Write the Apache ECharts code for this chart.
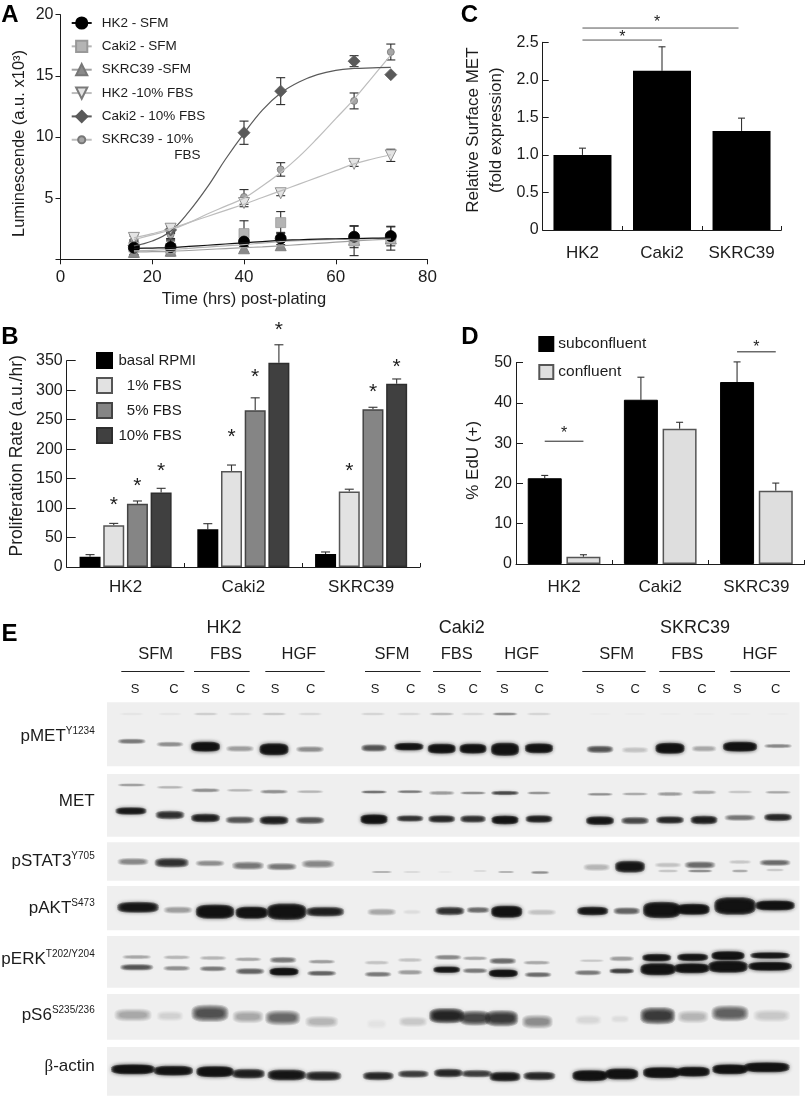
<!DOCTYPE html>
<html><head><meta charset="utf-8">
<style>html,body{margin:0;padding:0;background:#fff}#c{width:805px;height:1096px}</style>
<script src="https://cdn.jsdelivr.net/npm/echarts@6/dist/echarts.min.js"></script>
</head><body><div id="c"></div>
<script>
// ---------- Panel A data ----------
const timesA = [16, 24, 40, 48, 64, 72];
const hk2Sfm = [0.95, 1.0, 1.45, 1.7, 1.85, 1.9];
const hk2SfmErr = [0.6, 0.6, 0.4, 0.5, 0.9, 0.8];
const caki2Sfm = [1.0, 0.9, 2.1, 3.0, 1.5, 1.7];
const caki2SfmErr = [0.6, 0.6, 1.05, 0.9, 1.2, 0.95];
const skrc39Sfm = [0.6, 0.7, 0.9, 1.15, 1.6, 1.7];
const skrc39SfmErr = [0.4, 0.4, 0.3, 0.3, 0.3, 0.3];
const hk2Fbs = [1.75, 2.5, 4.6, 5.4, 7.8, 8.5];
const hk2FbsErr = [0.3, 0.3, 0.3, 0.2, 0.2, 0.5];
const caki2Fbs = [1.1, 2.4, 10.35, 13.75, 16.2, 15.1];
const caki2FbsErr = [0.3, 0.3, 0.95, 1.1, 0.45, 0];
const skrc39Fbs = [1.6, 2.0, 5.1, 7.35, 12.95, 16.95];
const skrc39FbsErr = [0.3, 0.3, 0.6, 0.55, 0.65, 0.65];
// fitted curves
const fitX = [16, 20, 24, 28, 32, 36, 40, 44, 48, 52, 56, 60, 64, 68, 72];
const fitHk2Sfm = [0.9, 0.92, 0.95, 1.05, 1.15, 1.25, 1.35, 1.45, 1.55, 1.6, 1.65, 1.68, 1.7, 1.73, 1.75];
const fitCaki2Sfm = [0.7, 0.73, 0.8, 0.9, 1.0, 1.1, 1.2, 1.33, 1.45, 1.52, 1.58, 1.62, 1.65, 1.68, 1.7];
const fitSkrc39Sfm = [0.6, 0.62, 0.65, 0.72, 0.8, 0.88, 0.95, 1.02, 1.1, 1.2, 1.3, 1.4, 1.5, 1.58, 1.65];
const fitHk2Fbs = [1.75, 2.1, 2.5, 3.0, 3.5, 4.0, 4.5, 5.05, 5.6, 6.15, 6.7, 7.25, 7.8, 8.2, 8.55];
const fitCaki2Fbs = [1.1, 1.5, 2.3, 3.9, 5.9, 8.2, 10.3, 12.2, 13.6, 14.5, 15.1, 15.45, 15.6, 15.65, 15.7];
const fitSkrc39Fbs = [1.6, 2.0, 2.4, 3.0, 3.7, 4.35, 5.0, 6.0, 7.1, 8.4, 9.9, 11.5, 13.1, 14.9, 16.7];

// ---------- Panel B data ----------
const cells = ['HK2', 'Caki2', 'SKRC39'];
const bBasal = [17.5, 64, 22];
const bBasalErr = [3.5, 9.5, 3.5];
const b1Fbs = [71, 163, 128];
const b1FbsErr = [3, 10, 4];
const b5Fbs = [107.5, 266, 267.5];
const b5FbsErr = [4.5, 21, 3.5];
const b10Fbs = [126.5, 346.5, 311];
const b10FbsErr = [7, 30.5, 8];

// ---------- Panel C data ----------
const cMet = [1.0, 2.12, 1.32];
const cMetErr = [0.09, 0.32, 0.17];

// ---------- Panel D data ----------
const dSub = [21.3, 40.8, 45.2];
const dSubErr = [0.7, 5.6, 5];
const dConf = [1.8, 33.6, 18.2];
const dConfErr = [0.5, 1.6, 1.9];

// ---------- Panel E: band darkness per lane (0..1), lanes S,C,S,C,S,C x 3 cell lines ----------
const pMetUpper = [.04,.04,.14,.08,.16,.08, .12,.08,.24,.1,.45,.12, .03,.03,.03,.03,.02,.02];
const pMetMain = [.5,.4,1,.35,1,.4, .65,.96,.98,.98,1,.98, .65,.2,1,.3,1,.45];
const metUpper = [.35,.25,.4,.25,.4,.25, .55,.5,.35,.45,.7,.4, .4,.3,.35,.3,.2,.3];
const metLower = [.92,.8,.9,.65,.9,.65, .98,.8,.85,.8,.97,.9, .95,.7,.85,.9,.5,.85];
const stat3Main = [.45,.8,.4,.5,.5,.45, .3,.12,.05,.12,.3,.4, .25,.95,.2,.55,.15,.55];
const stat3Lower = [.2,.45,.3,.15];
const aktMain = [.95,.35,1,1,1,.9, .3,.06,.8,.55,1,.2, .95,.6,1,1,1,1];
const erkUpper = [.3,.25,.25,.3,.5,.35, .2,.2,.45,.3,.55,.3, .15,.35,.95,.95,1,.95];
const erkLower = [.65,.4,.5,.6,1,.6, .5,.35,.95,.5,.98,.55, .5,.75,1,1,1,1];
const s6Main = [.3,.12,.65,.3,.55,.25, .05,.15,.85,.7,.75,.4, .1,.07,.75,.25,.6,.15];
const actinMain = [1,.97,1,.9,.95,.85, .85,.75,.85,.75,.92,.85, 1,1,1,.98,1,1];
const blotNames = ['pMET', 'MET', 'pSTAT3', 'pAKT', 'pERK', 'pS6', 'β-actin'];
const treatments = ['SFM', 'FBS', 'HGF'];
const laneLetters = ['S','C','S','C','S','C'];

// ---------- Panel E layout, page units: x, y, width, height of each band ----------
const geoPMetUpper = [131.7,170,205.7,240,274,310,373,409,441.7,473,505,539,600,635,670,704,740,778];
const geoPMetMain = [[131.7,741.3,27,5],[170,744.3,26,5],[205.5,746.7,28,9],[240,748.7,27,6],[274,749.3,28,11],[310,749.3,27,6],[374,748,25,7],[409,746.7,28,7],[441.7,748.7,27,9],[473,748.7,26,9],[505,749.3,27,12],[539,748.3,27,9],[600,749.3,26,7],[635,750,26,6],[670,748.3,28,10],[704,748.7,24,6],[740,746.7,33,9],[778,746,27,4]];
const geoMetUpper = [[131.7,785,27,3],[170,787.3,26,3],[205.5,790.3,28,4],[240,790.3,26,3],[274,791.7,27,4],[310,791.7,26,3],[374,792,25,3],[410,791.7,25,3],[441.7,793,25,4],[473,793,25,3],[505,793,27,4],[539,793,23,3],[600,794.3,25,3],[635,794,25,3],[670,794,25,4],[704,792.3,24,4],[740,792,24,3],[778,792.3,25,3]];
const geoMetLower = [[131,811,30,7],[170,815,28,8],[205.5,818,28,8],[240,820,28,7],[274,820.3,28,8],[310,820.3,28,7],[374,819.3,26,9],[410,818.5,26,6],[441.7,819,26,7],[473,819,25,7],[505,820,26,8],[539,819,26,7],[600,820.7,27,8],[635,820.7,27,7],[670,820,27,7],[704,820,26,8],[740,817.7,30,6],[778,817.3,27,7]];
const geoStat3Main = [[133,861.7,30,7],[171.7,862.7,33,9],[210,863.3,28,6],[248,865.7,31,8],[281.7,866.7,29,7],[318,864,32,8],[381.7,872,20,2],[412,872,18,2],[445,872,16,2],[480,871,14,2],[506,872,16,2],[540,872.5,18,3],[596.7,867.3,26,7],[630,866.7,29,11],[668,865,26,5],[700,865,30,7],[740,862,22,4],[775,862.7,30,6]];
const geoStat3Lower = [[668,871,20,3],[700,871,24,3],[740,871,16,3],[775,870,18,3]];
const geoAkt = [[138,907.3,40,10],[178,910,28,7],[215,911.7,37,13],[251.7,912.7,31,11],[286.7,911.7,38,15],[325,911.7,37,9],[381.7,912,28,7],[412,912,18,5],[450,911,28,8],[478,910,22,6],[506.7,911.7,30,11],[541.7,912.3,28,6],[592.7,911,30,8],[626.7,911,26,7],[661.7,910,36,15],[693,909.3,32,10],[735,906,40,16],[775,905.5,38,9]];
const geoErkUpper = [[136.7,957,28,4],[176.7,957.3,26,4],[213,958,26,4],[248,959.3,26,4],[283,960,26,6],[321.7,961.7,26,4],[376.7,962.7,24,4],[410,960,24,4],[448,957.3,26,5],[475,958.3,24,4],[502.7,961,26,6],[536.7,962.7,26,4],[591.7,960.7,24,3],[621.7,958.7,24,5],[656.7,957.7,28,7],[692.7,957.3,30,7],[728,955.7,32,8],[770,955.5,38,6]];
const geoErkLower = [[136.7,967.3,32,6],[176.7,968.3,26,5],[213,968.7,26,5],[250,971.3,28,6],[284,971.7,28,7],[321.7,973.3,28,5],[378,974.3,26,5],[410,972.3,24,5],[446.7,969.7,26,6],[475,970.7,24,5],[503.3,973.3,28,7],[538,974.7,26,5],[588,972.7,26,5],[621.7,971,24,5],[658,969.3,34,11],[691.7,968.3,34,9],[728,966.7,38,11],[770,966.3,42,8]];
const geoS6 = [[133,1015,36,12],[170,1016,26,10],[210,1013.3,36,16],[248,1016.7,30,12],[282.7,1017.7,34,14],[321.7,1021.7,32,11],[376.7,1024,20,10],[413,1021.7,28,10],[446.7,1015.7,34,14],[475,1018,30,14],[501.7,1018.3,32,15],[537.3,1021.7,30,13],[588.3,1020,26,10],[620,1019,18,8],[657.7,1015.7,34,16],[693,1016.7,30,12],[730,1013.3,36,15],[771.7,1015.7,36,12]];
const geoActin = [[133,1069.3,42,9],[173.3,1070.7,38,9],[215,1071.7,36,10],[248.3,1073.7,32,9],[286.7,1075,37,10],[323.3,1076,35,9],[378.3,1076,30,8],[413.3,1074,30,7],[448.3,1073,28,8],[476.7,1073.7,30,7],[505,1076.7,30,9],[539.3,1076,31,8],[590,1075.7,34,10],[621.7,1074,32,10],[661.7,1072.7,36,10],[693.3,1071.7,32,9],[730,1069.3,34,9],[766.7,1067.3,44,9]];
const blotPanels = [[107,799.5,702.3,766.3],[107,799.5,774,836.7],[107,799.5,842.3,880.7],[107,799.5,886,930.3],[107,799.5,936,987.7],[107,799.5,994,1039.7],[107,799.5,1047,1095.7]];
const blotLabelY = [736, 801.7, 861, 908, 959, 1015, 1066.7];
const headerLines = [[121.3,184.3],[194,249.7],[265.3,324.7],[365,420.7],[433,481],[496.7,548.3],[582.3,645.7],[659.3,715],[730.3,790]];
const treatmentX = [155.7,226,299,392,456.7,521.7,616.7,687.3,760];
const laneLetterX = [135,174,205.7,240.7,275,310.7,375,410.7,441.7,473.3,504.3,539.3,600,635.3,666.7,702,737.3,775.7];

const FONT = '"Liberation Sans", Arial, sans-serif';
const INK = '#1c1c1c';

function zipBands(geo, vals) { return geo.map((g, i) => [g[0], g[1], g[2], g[3], vals[i]]); }
const allBands = [].concat(
  zipBands(geoPMetUpper.map((x, i) => [x, 714, 24, 3]), pMetUpper),
  zipBands(geoPMetMain, pMetMain),
  zipBands(geoMetUpper, metUpper), zipBands(geoMetLower, metLower),
  zipBands(geoStat3Main, stat3Main), zipBands(geoStat3Lower, stat3Lower),
  zipBands(geoAkt, aktMain),
  zipBands(geoErkUpper, erkUpper), zipBands(geoErkLower, erkLower),
  zipBands(geoS6, s6Main), zipBands(geoActin, actinMain)
);

function axisBase(size) {
  return {
    axisLine: { show: true, onZero: false, lineStyle: { color: INK, width: 1 } },
    axisTick: { show: true, length: 5, lineStyle: { color: INK, width: 1 } },
    axisLabel: { color: INK, fontSize: size, fontFamily: FONT, margin: 7 },
    splitLine: { show: false },
    nameMoveOverlap: false,
    nameTextStyle: { color: INK, fontFamily: FONT, fontSize: 17, lineHeight: 23 }
  };
}
function catAxis(gridIndex, margin) {
  const a = axisBase(17);
  a.type = 'category'; a.gridIndex = gridIndex; a.data = cells;
  a.axisTick = { show: true, inside: true, length: 4, alignWithLabel: false, lineStyle: { color: INK, width: 1 } };
  a.axisLabel.margin = margin; a.axisLabel.interval = 0;
  return a;
}
function valAxis(gridIndex, min, max, interval, fmt, name, gap, padding, nameSize, tickIn) {
  const a = axisBase(16);
  Object.assign(a, { type: 'value', gridIndex, min, max, interval, name, nameLocation: 'middle', nameGap: gap, nameRotate: 90 });
  a.nameTextStyle.padding = padding;
  a.nameTextStyle.fontSize = nameSize;
  if (tickIn) { a.axisTick.inside = true; a.axisTick.length = tickIn; a.axisLabel.margin = 4; }
  if (fmt) a.axisLabel.formatter = fmt;
  return a;
}

// error bars: item = [x, value, err, offsetPx, both]
function errorBars(xAxisIndex, yAxisIndex, items, cap, color, width) {
  return {
    type: 'custom', xAxisIndex, yAxisIndex, clip: false, silent: true, data: items,
    renderItem(p, api) {
      const c = api.coord([api.value(0), api.value(1)]);
      const t = api.coord([api.value(0), api.value(1) + api.value(2)]);
      const b = api.value(4) ? api.coord([api.value(0), api.value(1) - api.value(2)]) : c;
      const x = c[0] + api.value(3);
      const st = { stroke: color, lineWidth: width, fill: 'none' };
      const kids = [{ type: 'line', shape: { x1: x, y1: t[1], x2: x, y2: b[1] }, style: st },
        { type: 'line', shape: { x1: x - cap / 2, y1: t[1], x2: x + cap / 2, y2: t[1] }, style: st }];
      if (api.value(4)) kids.push({ type: 'line', shape: { x1: x - cap / 2, y1: b[1], x2: x + cap / 2, y2: b[1] }, style: st });
      return { type: 'group', children: kids };
    }
  };
}
// stars: item = [cat, value, offsetPx]
function stars(xAxisIndex, yAxisIndex, items, size) {
  return {
    type: 'custom', xAxisIndex, yAxisIndex, clip: false, silent: true, data: items,
    renderItem(p, api) {
      const c = api.coord([api.value(0), api.value(1)]);
      return { type: 'text', x: c[0] + api.value(2), y: c[1] + size * 0.18,
        style: { text: '*', fontFamily: FONT, fontSize: size, fill: INK, align: 'center', verticalAlign: 'middle' } };
    }
  };
}
// bracket: item = [catFrom, offFrom, catTo, offTo, value]
function brackets(xAxisIndex, yAxisIndex, items, color) {
  return {
    type: 'custom', xAxisIndex, yAxisIndex, clip: false, silent: true, data: items,
    renderItem(p, api) {
      const a = api.coord([api.value(0), api.value(4)]);
      const b = api.coord([api.value(2), api.value(4)]);
      return { type: 'line', shape: { x1: a[0] + api.value(1), y1: a[1], x2: b[0] + api.value(3), y2: a[1] },
        style: { stroke: color, lineWidth: 1, fill: 'none' } };
    }
  };
}

const triDown = 'path://M0,0 L10,0 L5,10 Z';
const smallDot = 'path://M-0.5,-0.5 M10.5,10.5 M5,1.5 A3.5,3.5 0 1 1 5,8.5 A3.5,3.5 0 1 1 5,1.5 Z';
const seriesA = [
  { name: 'SKRC39 - 10%', vals: skrc39Fbs, err: skrc39FbsErr, fit: fitSkrc39Fbs, sym: 'circle', legendSym: smallDot, size: 7, fill: '#a6a6a6', border: '#777', line: '#bdbdbd' },
  { name: 'Caki2 - 10% FBS', vals: caki2Fbs, err: caki2FbsErr, fit: fitCaki2Fbs, sym: 'diamond', size: 12, fill: '#5a5a5a', border: '#5a5a5a', line: '#5a5a5a' },
  { name: 'HK2 -10% FBS', vals: hk2Fbs, err: hk2FbsErr, fit: fitHk2Fbs, sym: triDown, size: 11, fill: '#e4e4e4', border: '#7a7a7a', line: '#bdbdbd' },
  { name: 'SKRC39 -SFM', vals: skrc39Sfm, err: skrc39SfmErr, fit: fitSkrc39Sfm, sym: 'triangle', size: 11, fill: '#8a8a8a', border: '#777', line: '#a0a0a0' },
  { name: 'Caki2 - SFM', vals: caki2Sfm, err: caki2SfmErr, fit: fitCaki2Sfm, sym: 'rect', size: 10, fill: '#b4b4b4', border: '#999', line: '#b4b4b4' },
  { name: 'HK2 - SFM', vals: hk2Sfm, err: hk2SfmErr, fit: fitHk2Sfm, sym: 'circle', size: 11, fill: '#000', border: '#000', line: '#111' }
];
const series = [];
seriesA.forEach(s => {
  series.push({
    name: s.name, type: 'line', xAxisIndex: 0, yAxisIndex: 0, smooth: 0.4, symbol: s.legendSym || s.sym, symbolSize: s.size, showSymbol: false,
    data: fitX.map((x, i) => [x, s.fit[i]]), lineStyle: { color: s.line, width: 1.2 },
    itemStyle: { color: s.fill, borderColor: s.border, borderWidth: 0.8 }, silent: true
  });
});
seriesA.forEach(s => {
  series.push(errorBars(0, 0, timesA.map((x, i) => [x, s.vals[i], s.err[i], 0, 1]), 9, '#2a2a2a', 1.1));
  series.push({
    name: s.name + ' points', type: 'scatter', xAxisIndex: 0, yAxisIndex: 0, symbol: s.sym, symbolSize: s.size,
    data: timesA.map((x, i) => [x, s.vals[i]]), itemStyle: { color: s.fill, borderColor: s.border, borderWidth: 0.8, opacity: 1 }, silent: true
  });
});

// Panel B
const stepB = 23.7, bw = 21;
const bSets = [
  ['basal RPMI', bBasal, bBasalErr, '#000', '#000'],
  ['1% FBS', b1Fbs, b1FbsErr, '#e2e2e2', '#555'],
  ['5% FBS', b5Fbs, b5FbsErr, '#858585', '#444'],
  ['10% FBS', b10Fbs, b10FbsErr, '#404040', '#2e2e2e']
];
bSets.forEach((s, k) => {
  series.push({ name: s[0], type: 'bar', xAxisIndex: 1, yAxisIndex: 1, data: s[1], barWidth: bw, barGap: '12.8%', silent: true,
    itemStyle: { color: s[3], borderColor: s[4], borderWidth: 1.5 } });
  series.push(errorBars(1, 1, s[1].map((v, i) => [i, v, s[2][i], (k - 1.5) * stepB, 0]), 9, '#333', 1.1));
});
const starB = [[0,110.8,-stepB*.5],[1,226.7,-stepB*.5],[2,168.5,-stepB*.5],[0,143,stepB*.5],[1,328.4,stepB*.5],[2,303,stepB*.5],[0,168.5,stepB*1.5],[1,408.7,stepB*1.5],[2,345.4,stepB*1.5]];
series.push(stars(1, 1, starB, 21));

// Panel C
series.push({ name: 'Relative Surface MET', type: 'bar', xAxisIndex: 2, yAxisIndex: 2, data: cMet, barWidth: 58, silent: true, itemStyle: { color: '#000' } });
series.push(errorBars(2, 2, cMet.map((v, i) => [i, v, cMetErr[i], 0, 0]), 7, '#333', 1.1));
series.push(brackets(2, 2, [[0, 0, 1, 0, 2.53], [0, 0, 2, -3, 2.69]], '#555'));
series.push(stars(2, 2, [[0, 2.6, 39.8], [1, 2.8, -5]], 16));

// Panel D
const stepD = 38.7;
series.push({ name: 'subconfluent', type: 'bar', xAxisIndex: 3, yAxisIndex: 3, data: dSub, barWidth: 34, barGap: '13.8%', silent: true, itemStyle: { color: '#000', borderColor: '#000', borderWidth: 1 } });
series.push({ name: 'confluent', type: 'bar', xAxisIndex: 3, yAxisIndex: 3, data: dConf, barWidth: 34, barGap: '13.8%', silent: true, itemStyle: { color: '#dedede', borderColor: '#555', borderWidth: 1.5 } });
series.push(errorBars(3, 3, dSub.map((v, i) => [i, v, dSubErr[i], -stepD / 2, 0]), 7, '#333', 1.1));
series.push(errorBars(3, 3, dConf.map((v, i) => [i, v, dConfErr[i], stepD / 2, 0]), 7, '#333', 1.1));
series.push(brackets(3, 3, [[0, -stepD / 2, 0, stepD / 2, 30.5], [2, -stepD / 2, 2, stepD / 2, 52.7]], '#222'));
series.push(stars(3, 3, [[0, 33, 0], [2, 54.5, 0]], 16));

// Panel E blot
series.push({
  type: 'custom', xAxisIndex: 4, yAxisIndex: 4, clip: false, silent: true, data: blotPanels, z: 1,
  renderItem(p, api) {
    const a = api.coord([api.value(0), api.value(2)]);
    const b = api.coord([api.value(1), api.value(3)]);
    return { type: 'rect', shape: { x: a[0], y: a[1], width: b[0] - a[0], height: b[1] - a[1] }, style: { fill: '#efefef' } };
  }
});
function bandOutline(cx, cy, rx, ry) {
  const pts = [], p = 3.2, m = 28;
  for (let i = 0; i < m; i++) {
    const a = i / m * Math.PI * 2, co = Math.cos(a), si = Math.sin(a);
    pts.push([cx + rx * Math.sign(co) * Math.pow(Math.abs(co), 2 / p), cy + ry * Math.sign(si) * Math.pow(Math.abs(si), 2 / p)]);
  }
  return pts;
}
series.push({
  type: 'custom', xAxisIndex: 4, yAxisIndex: 4, clip: false, silent: true, data: allBands, z: 2,
  renderItem(p, api) {
    const c = api.coord([api.value(0), api.value(1)]);
    const s = api.size([api.value(2), api.value(3)]);
    const d = Math.min(api.value(4), 0.985);
    const n = 6;
    const alpha = 1 - Math.pow(1 - d, 1 / n);
    const col = 'rgba(18,18,18,' + alpha.toFixed(3) + ')';
    const kids = [];
    for (let k = 0; k < n; k++) {
      const t = k / (n - 1);
      kids.push({ type: 'polygon',
        shape: { points: bandOutline(c[0], c[1], s[0] * 0.5 * (1.04 - 0.3 * t), s[1] * 0.5 * (1.1 - 0.65 * t)) },
        style: { fill: col, shadowBlur: 4, shadowColor: col } });
    }
    return { type: 'group', children: kids };
  }
});
// header rules drawn through the blot scale
series.push({
  type: 'custom', xAxisIndex: 4, yAxisIndex: 4, clip: false, silent: true, data: headerLines.map(l => [l[0], l[1], 671.5]),
  renderItem(p, api) {
    const a = api.coord([api.value(0), api.value(2)]);
    const b = api.coord([api.value(1), api.value(2)]);
    return { type: 'line', shape: { x1: a[0], y1: a[1], x2: b[0], y2: a[1] }, style: { stroke: '#222', lineWidth: 1 } };
  }
});

function txt(text, x, y, size, extra) {
  return Object.assign({ type: 'text', x, y, silent: true,
    style: Object.assign({ text, fontSize: size, fontFamily: FONT, fill: INK, align: 'center', verticalAlign: 'middle' }, extra || {}) });
}
const graphics = [
  txt('A', 10, 15, 24, { fontWeight: 'bold', fill: '#000' }),
  txt('B', 10, 337, 24, { fontWeight: 'bold', fill: '#000' }),
  txt('C', 469.5, 15, 24, { fontWeight: 'bold', fill: '#000' }),
  txt('D', 470, 337, 24, { fontWeight: 'bold', fill: '#000' }),
  txt('E', 9.5, 634, 24, { fontWeight: 'bold', fill: '#000' }),
  txt('FBS', 187.5, 155.7, 13.5),
  txt('HK2', 224, 628, 18), txt('Caki2', 461.7, 628, 18), txt('SKRC39', 695, 628, 18)
];
treatmentX.forEach((x, i) => graphics.push(txt(treatments[i % 3], x, 654, 16.5)));
laneLetterX.forEach((x, i) => graphics.push(txt(laneLetters[i % 6], x, 689, 13)));
const sup = { b: { fontSize: 17, fontFamily: FONT, fill: INK, lineHeight: 20 }, s: { fontSize: 10, fontFamily: FONT, fill: INK, verticalAlign: 'top', lineHeight: 20, padding: [0, 0, 0, 0] }, g: { fontSize: 17, fontFamily: '"Liberation Serif", serif', fill: INK, lineHeight: 20 } };
const blotSup = ['Y1234', '', 'Y705', 'S473', 'T202/Y204', 'S235/236', ''];
blotNames.forEach((n, i) => {
  let t = blotSup[i] ? '{b|' + n + '}{s|' + blotSup[i] + '}' : '{b|' + n + '}';
  if (n === 'β-actin') t = '{g|β}{b|-actin}';
  graphics.push(txt(t, 94.7, blotLabelY[i], 17, { align: 'right', rich: sup }));
});

const legendCommon = { orient: 'vertical', selectedMode: false, padding: 0 };
const gridBase = { outerBoundsMode: 'none', containLabel: false };
const xA = axisBase(17);
xA.axisLabel.margin = 10;
const option = {
  animation: false,
  backgroundColor: '#fff',
  textStyle: { fontFamily: FONT },
  grid: [
    Object.assign({ left: 60.5, top: 14.7, width: 367, height: 244.6 }, gridBase),
    Object.assign({ left: 66.7, top: 360.7, width: 353.3, height: 206.3 }, gridBase),
    Object.assign({ left: 542.7, top: 42.3, width: 238.6, height: 187.7 }, gridBase),
    Object.assign({ left: 516, top: 362.7, width: 288.5, height: 201.3 }, gridBase),
    Object.assign({ left: 0, top: 0, width: 805, height: 1096 }, gridBase)
  ],
  xAxis: [
    Object.assign(xA, { type: 'value', gridIndex: 0, min: 0, max: 80, interval: 20, name: 'Time (hrs) post-plating', nameLocation: 'middle', nameGap: 32, nameTextStyle: { color: INK, fontFamily: FONT, fontSize: 16.5 } }),
    catAxis(1, 12), catAxis(2, 15), catAxis(3, 15),
    { type: 'value', gridIndex: 4, min: 0, max: 805, show: false }
  ],
  yAxis: [
    valAxis(0, 0, 20, 5, v => v === 0 ? '' : String(v), 'Luminescende (a.u. x10³)', 29.5, [0, 13, 0, 0], 16.5),
    valAxis(1, 0, 350, 50, null, 'Proliferation Rate (a.u./hr)', 37.7, [0, 0, 0, 16], 17.5, 9),
    valAxis(2, 0, 2.5, 0.5, v => v === 0 ? '0' : v.toFixed(1), 'Relative Surface MET\n(fold expression)', 35, [0, 0, 0, 12], 17, 6),
    valAxis(3, 0, 50, 10, null, '% EdU (+)', 30.7, [0, 0, 0, 6], 17, 7),
    { type: 'value', gridIndex: 4, min: 0, max: 1096, inverse: true, show: false }
  ],
  legend: [
    Object.assign({}, legendCommon, { left: 70.7, top: 16, itemWidth: 20, itemHeight: 14, itemGap: 9.35,
      textStyle: { color: INK, fontFamily: FONT, fontSize: 13.5, padding: [0, 0, 0, 5] },
      data: ['HK2 - SFM', 'Caki2 - SFM', 'SKRC39 -SFM', 'HK2 -10% FBS', 'Caki2 - 10% FBS', 'SKRC39 - 10%'] }),
    Object.assign({}, legendCommon, { left: 96, top: 352, icon: 'rect', itemWidth: 15, itemHeight: 15, itemGap: 8,
      textStyle: { color: INK, fontFamily: FONT, fontSize: 15, padding: [0, 0, 0, 1.5] },
      formatter: n => (n === '1% FBS' || n === '5% FBS') ? '  ' + n : n,
      data: bSets.map(s => s[0]) }),
    Object.assign({}, legendCommon, { left: 538.3, top: 336, icon: 'rect', itemWidth: 14, itemHeight: 14, itemGap: 12,
      textStyle: { color: INK, fontFamily: FONT, fontSize: 15.5 }, data: ['subconfluent', 'confluent'] })
  ],
  graphic: graphics,
  series
};
const chart = echarts.init(document.getElementById('c'), null, { renderer: 'canvas', width: 805, height: 1096 });
chart.setOption(option);
</script></body></html>
